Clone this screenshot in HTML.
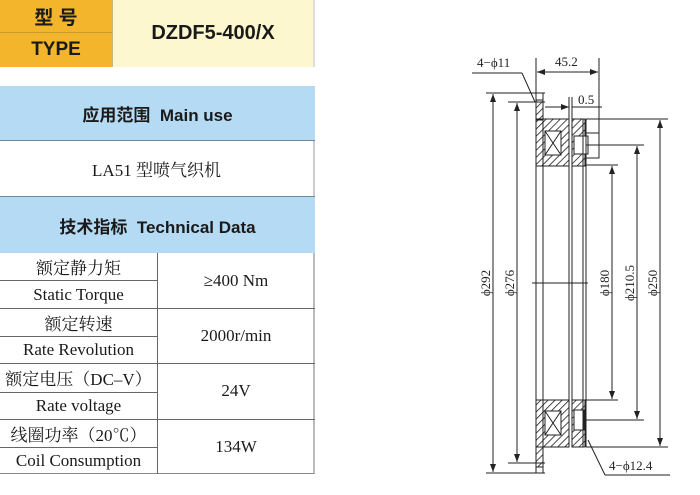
<!DOCTYPE html>
<html><head><meta charset="utf-8"><style>
body{margin:0;width:700px;height:495px;background:#fff;overflow:hidden;position:relative;font-family:"Liberation Serif","Noto Serif CJK SC",serif}
.c{position:absolute;display:flex;align-items:center;justify-content:center;box-sizing:border-box;color:#1a1a1a}
.b{font-family:"Liberation Sans","Noto Sans CJK SC",sans-serif;font-weight:bold}
</style></head><body>
<div class="c b" style="left:0;top:0;width:112px;height:33px;background:#f2b52c;font-size:19px;border-bottom:1px solid #c89a30">型 号</div>
<div class="c b" style="left:0;top:33px;width:112px;height:34px;background:#f2b52c;font-size:19px">TYPE</div>
<div class="c b" style="left:112px;top:0;width:203px;height:67px;background:#fdf7cf;font-size:20px;border-left:1px solid #c8b880;border-right:2px solid #ddd">DZDF5-400/X</div>
<div class="c b" style="left:0;top:86px;width:315px;height:55px;background:#b5daf3;font-size:17px;border-bottom:1px solid #6a8aa0">应用范围&nbsp; Main use</div>
<div class="c" style="left:0;top:141px;width:315px;height:55px;background:#fff;font-size:17px;border-right:2px solid #ccc">LA51 型喷气织机</div>
<div class="c b" style="left:0;top:196px;width:315px;height:57px;background:#b5daf3;font-size:17px;border-top:1px solid #6a8aa0">技术指标&nbsp; Technical Data</div>
<div style="position:absolute;left:0;top:253px;width:315px;height:221px;border-right:2px solid #bbb;border-bottom:1px solid #888;box-sizing:border-box"></div>
<div style="position:absolute;left:157px;top:253px;width:1px;height:221px;background:#666"></div>
<div class="c" style="left:0;top:253px;width:157px;height:27px;font-size:17px">额定静力矩</div>
<div class="c" style="left:0;top:280px;width:157px;height:28px;font-size:17px;border-top:1px solid #666">Static Torque</div>
<div class="c" style="left:157px;top:253px;width:158px;height:55px;font-size:17px">≥400 Nm</div>
<div style="position:absolute;left:0;top:308px;width:315px;height:1px;background:#666"></div>
<div class="c" style="left:0;top:308px;width:157px;height:28px;font-size:17px">额定转速</div>
<div class="c" style="left:0;top:336px;width:157px;height:27px;font-size:17px;border-top:1px solid #666">Rate Revolution</div>
<div class="c" style="left:157px;top:308px;width:158px;height:55px;font-size:17px">2000r/min</div>
<div style="position:absolute;left:0;top:363px;width:315px;height:1px;background:#666"></div>
<div class="c" style="left:0;top:363px;width:157px;height:29px;font-size:17px">额定电压（DC–V）</div>
<div class="c" style="left:0;top:392px;width:157px;height:27px;font-size:17px;border-top:1px solid #666">Rate voltage</div>
<div class="c" style="left:157px;top:363px;width:158px;height:56px;font-size:17px">24V</div>
<div style="position:absolute;left:0;top:419px;width:315px;height:1px;background:#666"></div>
<div class="c" style="left:0;top:419px;width:157px;height:28px;font-size:17px">线圈功率（20℃）</div>
<div class="c" style="left:0;top:447px;width:157px;height:27px;font-size:17px;border-top:1px solid #666">Coil Consumption</div>
<div class="c" style="left:157px;top:419px;width:158px;height:55px;font-size:17px">134W</div>

<svg style="position:absolute;left:0;top:0" width="700" height="495" viewBox="0 0 700 495">
<defs><pattern id="h" width="5" height="5" patternUnits="userSpaceOnUse" patternTransform="rotate(45)"><line x1="0" y1="0" x2="0" y2="5" stroke="#111" stroke-width="1.5"/></pattern>
<marker id="a" markerWidth="8" markerHeight="6" refX="8" refY="3" orient="auto-start-reverse"><path d="M0,0L8,3L0,6z" fill="#222"/></marker></defs>
<g stroke="#222" stroke-width="1" fill="none">
<rect x="536" y="93" width="7" height="380" />
<rect x="536" y="119" width="33" height="47" fill="url(#h)"/>
<rect x="536" y="400" width="33" height="47" fill="url(#h)"/>
<rect x="536" y="100" width="7" height="20" fill="url(#h)"/>
<rect x="536" y="447" width="7" height="20" fill="url(#h)"/>
<rect x="545" y="131" width="16" height="24" fill="#fff"/><path d="M545,131L561,155M561,131L545,155"/>
<rect x="545" y="411" width="16" height="24" fill="#fff"/><path d="M545,411L561,435M561,411L545,435"/>
<rect x="572" y="119" width="13" height="47" fill="url(#h)"/>
<rect x="572" y="400" width="13" height="47" fill="url(#h)"/>
<rect x="574" y="136" width="14" height="18" fill="#fff"/>
<rect x="574" y="410" width="10" height="20" fill="#fff"/>
<path d="M585,133h14v25h-14"/>
<line x1="569" y1="97" x2="569" y2="447"/><line x1="572" y1="97" x2="572" y2="447"/>
<line x1="583" y1="119" x2="583" y2="447"/><line x1="586" y1="119" x2="586" y2="447"/>
<line x1="532" y1="283" x2="588" y2="283"/>
<line x1="486" y1="93" x2="545" y2="93"/><line x1="486" y1="473" x2="545" y2="473"/>
<line x1="508" y1="102" x2="545" y2="102"/><line x1="508" y1="463" x2="545" y2="463"/>
<line x1="586" y1="119" x2="668" y2="119"/><line x1="586" y1="447" x2="668" y2="447"/>
<line x1="586" y1="145" x2="644" y2="145"/><line x1="586" y1="420" x2="644" y2="420"/>
<line x1="586" y1="165" x2="618" y2="165"/><line x1="586" y1="400" x2="618" y2="400"/>
<line x1="536" y1="58" x2="536" y2="93"/><line x1="599" y1="58" x2="599" y2="158"/>
<line x1="493" y1="94" x2="493" y2="472" marker-start="url(#a)" marker-end="url(#a)"/>
<line x1="517" y1="103" x2="517" y2="462" marker-start="url(#a)" marker-end="url(#a)"/>
<line x1="612" y1="166" x2="612" y2="399" marker-start="url(#a)" marker-end="url(#a)"/>
<line x1="637" y1="146" x2="637" y2="419" marker-start="url(#a)" marker-end="url(#a)"/>
<line x1="660" y1="120" x2="660" y2="446" marker-start="url(#a)" marker-end="url(#a)"/>
<line x1="537" y1="72" x2="598" y2="72" marker-start="url(#a)" marker-end="url(#a)"/>
<line x1="545" y1="107" x2="569" y2="107" marker-end="url(#a)"/><line x1="572" y1="107" x2="602" y2="107"/>
<line x1="472" y1="73" x2="522" y2="73"/><line x1="522" y1="73" x2="535" y2="102"/>
<line x1="588" y1="440" x2="605" y2="475"/><line x1="605" y1="475" x2="670" y2="475"/>
</g>
<g font-family="Liberation Serif" font-size="13" fill="#222">
<text x="477" y="67">4−ϕ11</text>
<text x="555" y="66">45.2</text>
<text x="578" y="104">0.5</text>
<text x="609" y="470">4−ϕ12.4</text>
<text transform="translate(490,283) rotate(-90)" text-anchor="middle">ϕ292</text>
<text transform="translate(514,283) rotate(-90)" text-anchor="middle">ϕ276</text>
<text transform="translate(609,283) rotate(-90)" text-anchor="middle">ϕ180</text>
<text transform="translate(634,283) rotate(-90)" text-anchor="middle">ϕ210.5</text>
<text transform="translate(657,283) rotate(-90)" text-anchor="middle">ϕ250</text>
</g>
</svg>
</body></html>
